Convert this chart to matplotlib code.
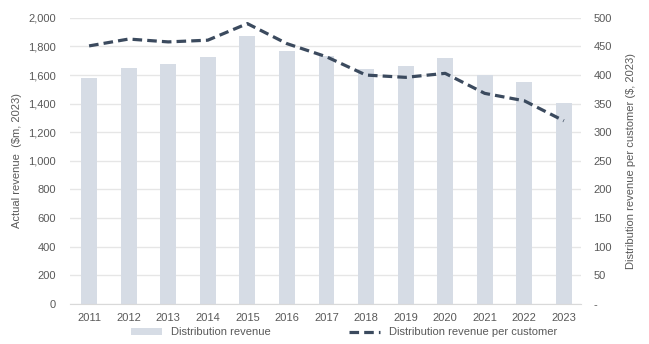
import matplotlib.pyplot as plt
from matplotlib.ticker import FuncFormatter

# data
years = ["2011", "2012", "2013", "2014", "2015", "2016", "2017",
         "2018", "2019", "2020", "2021", "2022", "2023"]
revenue = [1580, 1650, 1680, 1725, 1870, 1770, 1730,
           1645, 1665, 1720, 1600, 1550, 1405]
per_customer = [451, 463, 458, 461, 490, 455, 432,
                400, 396, 403, 368, 355, 320]

plt.rcParams["font.family"] = ["Liberation Sans", "DejaVu Sans"]
grey = "#595959"
bar_col = "#d6dce5"
line_col = "#3b4a5e"

fig, ax = plt.subplots(figsize=(6.49, 3.44), dpi=100)
fig.subplots_adjust(left=0.108, right=0.895, top=0.948, bottom=0.117)

x = list(range(len(years)))
bars = ax.bar(x, revenue, width=0.4, color=bar_col, zorder=2,
              label="Distribution revenue")
ax.set_ylim(0, 2000)
ax.set_yticks(range(0, 2001, 200))
ax.yaxis.set_major_formatter(FuncFormatter(lambda v, p: f"{int(v):,}"))
ax.set_xticks(x)
ax.set_xticklabels(years)
ax.set_xlim(-0.48, len(years) - 0.57)
ax.grid(axis="y", color="#e6e6e6", linewidth=1, zorder=0)
ax.set_ylabel("Actual revenue  ($m, 2023)", fontsize=8, color=grey, labelpad=5)

ax2 = ax.twinx()
line, = ax2.plot(x, per_customer, color=line_col, linewidth=2.3,
                 linestyle=(0, (3, 1.6)), label="Distribution revenue per customer")
ax2.set_ylim(0, 500)
ax2.set_yticks(range(0, 501, 50))
ax2.yaxis.set_major_formatter(FuncFormatter(lambda v, p: "-" if v == 0 else f"{int(v)}"))
ax2.set_ylabel("Distribution revenue per customer ($, 2023)", fontsize=8, color=grey,
               labelpad=10)

for a in (ax, ax2):
    for s in a.spines.values():
        s.set_visible(False)
    a.tick_params(axis="both", length=0, labelsize=8, labelcolor=grey, pad=7)
ax.tick_params(axis="y", pad=10)
ax2.tick_params(axis="y", pad=9)
ax.spines["bottom"].set_visible(True)
ax.spines["bottom"].set_color("#d9d9d9")

fig.legend([bars, line], ["Distribution revenue", "Distribution revenue per customer"],
           loc="lower center", bbox_to_anchor=(0.53, -0.01), ncol=2, frameon=False,
           fontsize=8, labelcolor=grey, columnspacing=7, handlelength=2.8)

fig.savefig("out.png", dpi=100)
